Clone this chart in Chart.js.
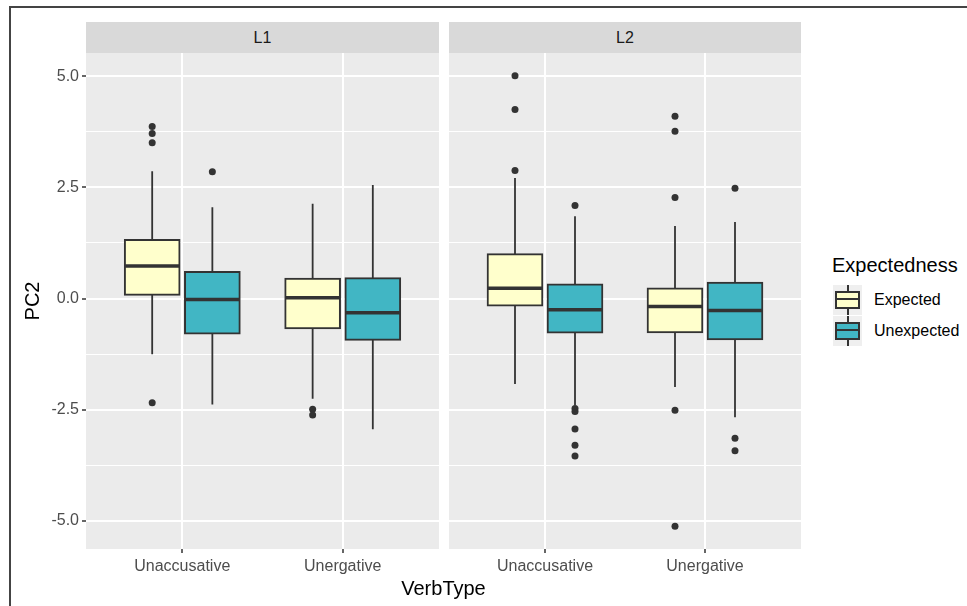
<!DOCTYPE html>
<html>
<head>
<meta charset="utf-8">
<script src="https://cdn.jsdelivr.net/npm/chart.js@4.4.1/dist/chart.umd.min.js"></script>
<style>
  body { margin: 0; background: #fff; font-family: "Liberation Sans", Arial, sans-serif; }
  #wrap { position: relative; width: 967px; height: 606px; overflow: hidden; background: #fff; }
  #frame { position: absolute; left: 9px; top: 6px; width: 970px; height: 620px; border-left: 2px solid #444; border-top: 2px solid #444; }
  canvas { position: absolute; top: 53px; }
  .strip { position: absolute; top: 22px; height: 31px; line-height: 31px; background: #d9d9d9; color: #1a1a1a; font-size: 16px; text-align: center; }
  #xtitle { position: absolute; left: 86px; width: 715px; top: 576px; line-height: 24px; font-size: 20px; color: #000; text-align: center; }
  #legend { position: absolute; left: 832px; top: 253px; }
  .ltitle { font-size: 20px; line-height: 24px; color: #000; margin-bottom: 8px; }
  .litem { position: relative; height: 31px; }
  .key { position: absolute; left: 1px; top: 0; width: 29px; height: 30px; background: #efefef; }
  .key .wh { position: absolute; left: 14px; top: 0; width: 1.5px; height: 30px; background: #333; }
  .key .bx { position: absolute; left: 2px; top: 6px; width: 21px; height: 14px; border: 2px solid #333; }
  .key .md { position: absolute; left: 2px; top: 13px; width: 25px; height: 2px; background: #333; }
  .litem .lab { position: absolute; left: 42px; top: 0; line-height: 30px; font-size: 16px; color: #000; white-space: nowrap; }
</style>
</head>
<body>
<div id="wrap">
  <div id="frame"></div>
  <div class="strip" style="left:86px;width:353px;" id="strip0"></div>
  <div class="strip" style="left:449px;width:352px;" id="strip1"></div>
  <canvas id="panelL1" width="439" height="526" style="left:0px;"></canvas>
  <canvas id="panelL2" width="352" height="526" style="left:449px;"></canvas>
  <div id="xtitle">VerbType</div>
  <div id="legend"></div>
</div>
<script>
const categories = ['Unaccusative', 'Unergative'];
const facets = ['L1', 'L2'];
const groups = ['Expected', 'Unexpected'];
const yTicks = [-5, -3.75, -2.5, -1.25, 0, 1.25, 2.5, 3.75, 5];
const yMajor = [-5, -2.5, 0, 2.5, 5];

// [lower whisker, Q1, median, Q3, upper whisker] per category
const l1Expected   = [[-1.25, 0.07, 0.73, 1.33, 2.86], [-2.25, -0.68, 0.02, 0.46, 2.13]];
const l1Unexpected = [[-2.38, -0.80, -0.02, 0.61, 2.05], [-2.94, -0.94, -0.32, 0.47, 2.55]];
const l2Expected   = [[-1.92, -0.17, 0.23, 1.01, 2.71], [-1.99, -0.77, -0.18, 0.24, 1.63]];
const l2Unexpected = [[-2.40, -0.78, -0.25, 0.33, 1.85], [-2.67, -0.93, -0.27, 0.37, 1.72]];

// outliers per category
const l1ExpectedOut   = [[3.87, 3.71, 3.50, -2.34], [-2.49, -2.62]];
const l1UnexpectedOut = [[2.85], []];
const l2ExpectedOut   = [[5.01, 4.25, 2.88], [4.10, 3.76, 2.27, -2.51, -5.12]];
const l2UnexpectedOut = [[2.09, -2.47, -2.54, -2.93, -3.30, -3.54], [2.48, -3.14, -3.42]];

const fillColors = ['#FFFFCC', '#41B6C4'];
const lineColor = '#333333';
const FONT = '"Liberation Sans", Arial, sans-serif';
const DODGE = 0.1875;
const HALF = 0.16875;

const panelBg = {
    id: 'panelBg',
    beforeDraw(chart) {
        const a = chart.chartArea;
        const ctx = chart.ctx;
        ctx.save();
        ctx.fillStyle = '#ebebeb';
        ctx.fillRect(a.left, a.top, a.right - a.left, a.bottom - a.top);
        ctx.restore();
    }
};

function groupDatasets(stats, outliers, gi) {
    const off = gi === 0 ? -DODGE : DODGE;
    const bars = [], whisk = [], med = [], pts = [];
    stats.forEach((s, ci) => {
        const c = ci + 1 + off;
        bars.push({x: c, y: [s[1], s[3]]});
        whisk.push({x: c, y: s[0]}, {x: c, y: s[4]}, {x: c, y: null});
        med.push({x: c - HALF, y: s[2]}, {x: c + HALF, y: s[2]}, {x: c + HALF, y: null});
        outliers[ci].forEach(v => pts.push({x: c, y: v}));
    });
    return [
        {type: 'line', label: groups[gi] + ' whiskers', data: whisk, borderColor: lineColor,
         borderWidth: 1.8, pointRadius: 0, spanGaps: false, order: 4},
        {type: 'bar', label: groups[gi], data: bars, backgroundColor: fillColors[gi],
         borderColor: lineColor, borderWidth: 2, borderSkipped: false, grouped: false,
         barThickness: 56, order: 3},
        {type: 'line', label: groups[gi] + ' median', data: med, borderColor: lineColor,
         borderWidth: 3.5, pointRadius: 0, spanGaps: false, borderCapStyle: 'butt', order: 2},
        {type: 'scatter', label: groups[gi] + ' outliers', data: pts, backgroundColor: lineColor,
         borderWidth: 0, pointRadius: 3.5, order: 1}
    ];
}

function isMajor(v) { return yMajor.indexOf(v) !== -1; }

function buildPanel(canvasId, expected, unexpected, expOut, unexpOut, showY) {
    const ctx = document.getElementById(canvasId).getContext('2d');
    return new Chart(ctx, {
        type: 'bar',
        data: {
            datasets: [
                ...groupDatasets(expected, expOut, 0),
                ...groupDatasets(unexpected, unexpOut, 1)
            ]
        },
        options: {
            responsive: false,
            animation: false,
            events: [],
            layout: { padding: 0, autoPadding: false },
            plugins: { legend: { display: false }, tooltip: { enabled: false } },
            scales: {
                x: {
                    type: 'linear', min: 0.4, max: 2.6, offset: false,
                    afterBuildTicks: s => { s.ticks = categories.map((c, i) => ({value: i + 1})); },
                    afterFit: s => { s.height = 30; s.paddingLeft = 0; s.paddingRight = 0; },
                    ticks: {
                        callback: v => categories[v - 1], color: '#4d4d4d',
                        font: { size: 16, family: FONT }, padding: 4, maxRotation: 0, autoSkip: false
                    },
                    grid: { color: '#ffffff', lineWidth: 2, tickColor: lineColor, tickLength: 4, tickWidth: 1.5, offset: false },
                    border: { display: false }
                },
                y: {
                    type: 'linear', min: -5.63, max: 5.52,
                    afterBuildTicks: s => { s.ticks = yTicks.map(v => ({value: v})); },
                    afterFit: s => { s.width = showY ? 86 : 0; s.paddingTop = 0; s.paddingBottom = 0; },
                    ticks: {
                        display: showY, autoSkip: false,
                        callback: v => isMajor(v) ? v.toFixed(1) : '',
                        color: '#4d4d4d', font: { size: 16, family: FONT }, padding: 3
                    },
                    grid: {
                        color: '#ffffff',
                        lineWidth: c => (c.tick && isMajor(c.tick.value)) ? 2 : 1,
                        tickColor: c => (c.tick && isMajor(c.tick.value)) ? lineColor : 'rgba(0,0,0,0)',
                        tickLength: 4, tickWidth: 1.5, drawTicks: showY
                    },
                    title: {
                        display: showY, text: 'PC2', color: '#000000',
                        font: { size: 20, family: FONT }, padding: { top: 21, bottom: 0 }
                    },
                    border: { display: false }
                }
            }
        },
        plugins: [panelBg]
    });
}

document.getElementById('strip0').textContent = facets[0];
document.getElementById('strip1').textContent = facets[1];

buildPanel('panelL1', l1Expected, l1Unexpected, l1ExpectedOut, l1UnexpectedOut, true);
buildPanel('panelL2', l2Expected, l2Unexpected, l2ExpectedOut, l2UnexpectedOut, false);

// legend
const legend = document.getElementById('legend');
legend.innerHTML = '<div class="ltitle">Expectedness</div>' + groups.map((g, i) => `
    <div class="litem">
        <div class="key"><span class="wh"></span><span class="bx" style="background:${fillColors[i]}"></span><span class="md"></span></div>
        <span class="lab">${g}</span>
    </div>`).join('');
</script>
</body>
</html>
